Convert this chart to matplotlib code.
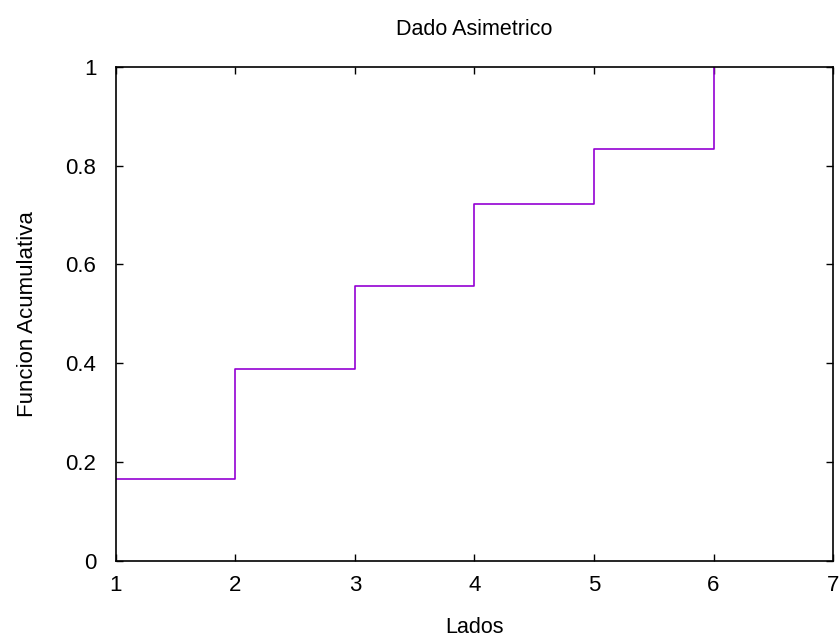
import matplotlib
matplotlib.use('Agg')
import matplotlib.pyplot as plt

plt.rcParams['font.family'] = ['Liberation Sans', 'DejaVu Sans']

# datos
lados = [1, 2, 3, 4, 5, 6]
acumulada = [0.1667, 0.3889, 0.5556, 0.7222, 0.8333, 1.0]

fig = plt.figure(figsize=(8.4, 6.37), dpi=100)
ax = fig.add_axes([0.138, 0.1193, 0.8537, 0.776])

ax.step(lados, acumulada, where='post', color='#9400D3', linewidth=1.2)

ax.set_xlim(1, 7)
ax.set_ylim(0, 1)
ax.set_xticks([1, 2, 3, 4, 5, 6, 7])
ax.set_yticks([0, 0.2, 0.4, 0.6, 0.8, 1])
ax.set_yticklabels(['0', '0.2', '0.4', '0.6', '0.8', '1'])
ax.tick_params(direction='in', top=True, right=True, labelsize=16, length=5, width=1)
ax.tick_params(axis='y', pad=14)
ax.tick_params(axis='x', pad=10)
for s in ax.spines.values():
    s.set_linewidth(1.2)

ax.set_title('Dado Asimetrico', fontsize=15.5, pad=23)
ax.set_xlabel('Lados', fontsize=15.5, labelpad=15)
ax.set_ylabel('Funcion Acumulativa', fontsize=16, labelpad=20)

fig.savefig('out.png', dpi=100)
